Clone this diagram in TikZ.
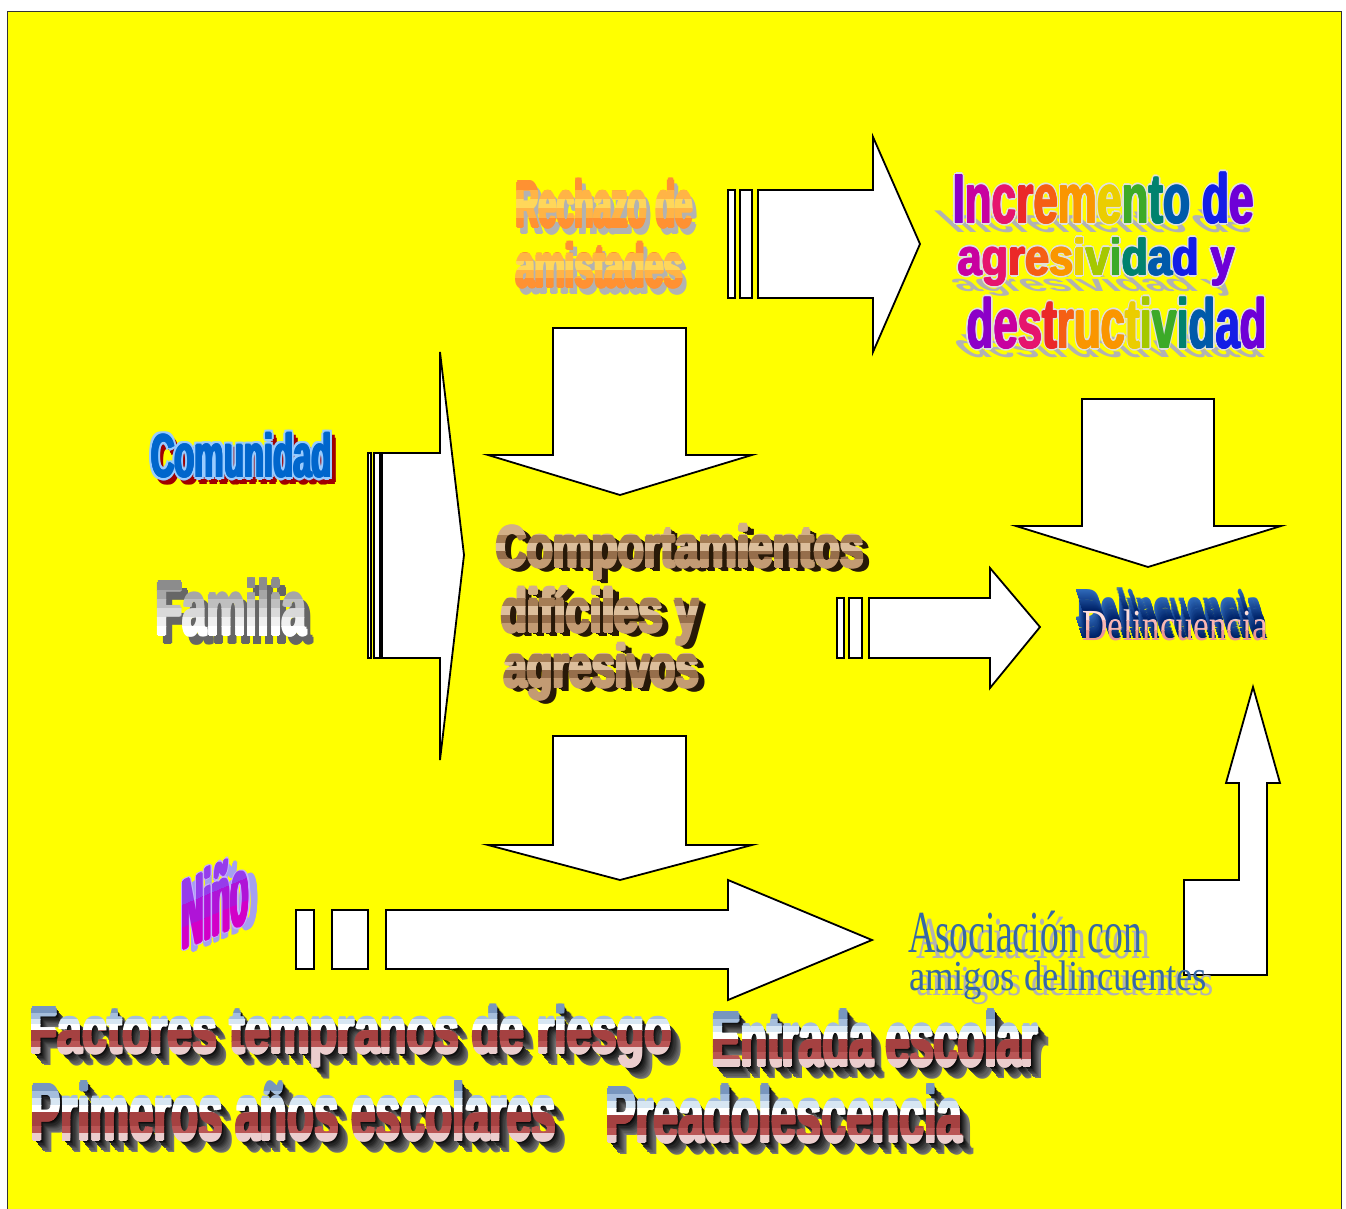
\documentclass[tikz,border=0pt]{standalone}
\usepackage{fontspec}
\setmainfont{Liberation Sans}
\newfontfamily\serifF{Liberation Serif}
\usepackage{graphicx}
\definecolor{bgyellow}{RGB}{255,255,0}
\definecolor{orA}{RGB}{255,145,50}
\definecolor{orB}{RGB}{255,180,70}
\definecolor{orC}{RGB}{255,215,90}
\definecolor{shgray}{RGB}{178,178,178}
\definecolor{comblue}{RGB}{0,102,204}
\definecolor{comlight}{RGB}{153,204,255}
\definecolor{comred}{RGB}{160,0,0}
\definecolor{brownsh}{RGB}{40,25,8}
\definecolor{tanA}{RGB}{210,175,135}
\definecolor{tanB}{RGB}{165,125,85}
\definecolor{tanC}{RGB}{220,190,155}
\definecolor{tanD}{RGB}{150,110,75}
\definecolor{tanE}{RGB}{195,155,115}
\definecolor{delblueA}{RGB}{0,35,105}
\definecolor{delblueB}{RGB}{50,110,190}
\definecolor{pinkA}{RGB}{255,222,218}
\definecolor{pinkB}{RGB}{250,182,178}
\definecolor{pinkC}{RGB}{235,150,150}
\definecolor{asoc}{RGB}{55,105,165}
\definecolor{ninoA}{RGB}{150,60,235}
\definecolor{ninoB}{RGB}{175,20,215}
\definecolor{ninoC}{RGB}{210,0,200}
\definecolor{ninoL}{RGB}{200,175,255}
\definecolor{ninoS}{RGB}{165,160,240}
\definecolor{chrA}{RGB}{120,150,190}
\definecolor{chrB}{RGB}{165,190,220}
\definecolor{chrC}{RGB}{215,230,242}
\definecolor{chrD}{RGB}{255,255,255}
\definecolor{chrE}{RGB}{165,65,65}
\definecolor{chrF}{RGB}{185,85,85}
\definecolor{chrH}{RGB}{235,205,205}
\definecolor{exgray}{RGB}{130,130,130}
\definecolor{rb1}{RGB}{140,0,200}
\definecolor{rb2}{RGB}{200,0,160}
\definecolor{rb3}{RGB}{230,20,110}
\definecolor{rb4}{RGB}{235,40,40}
\definecolor{rb5}{RGB}{245,95,20}
\definecolor{rb6}{RGB}{250,150,0}
\definecolor{rb7}{RGB}{235,205,0}
\definecolor{rb8}{RGB}{165,200,0}
\definecolor{rb9}{RGB}{60,170,40}
\definecolor{rb10}{RGB}{0,130,110}
\definecolor{rb11}{RGB}{0,90,170}
\definecolor{rb12}{RGB}{20,30,230}
\definecolor{rb13}{RGB}{110,0,215}

\newcommand\rc[2]{\textcolor{#1}{#2}}
\newcommand\setword[6]{\def\wx{#1}\def\wy{#2}\def\wW{#3}\def\wH{#4}\def\wF{#5}\def\wT{#6}}
\newcommand\wbox[1]{{\wF\resizebox{\wW pt}{\wH pt}{\vphantom{H}\smash{#1}}}}
% thick copy: name, dx, dy, colour, r
\newcommand\shcopy[5]{%
  \ifdim #5pt>0pt
  \foreach \aa in {0,60,...,300}{%
    \node[wa,text=#4] (#1-\aa) at ({\wx+#2+#5*cos(\aa)},{\wy+#3+#5*sin(\aa)}) {\wbox{\wT}};}%
  \fi
  \node[wa,text=#4] (#1) at (\wx+#2,\wy+#3) {\wbox{\wT}};}
\newcommand\extrude[6]{%
  \colorlet{exnear}{#5}\colorlet{exfar}{#6}%
  \foreach \kk in {#2,...,1}{%
    \pgfmathtruncatemacro\pct{100*(\kk-1)/#2}%
    \node[wa,text=exfar!\pct!exnear] (#1-\kk) at (\wx+\kk*#3,\wy+\kk*#4) {\wbox{\wT}};}}
\newcommand\outl[3]{%
  \foreach \aa in {0,45,...,315}{%
    \node[wa,text=#3] (#1-\aa) at ({\wx+#2*cos(\aa)},{\wy+#2*sin(\aa)}) {\wbox{\wT}};}}
% gradient face: name, colours, n, thickness
\newcommand\gradface[4]{%
  \foreach \cc [count=\ii] in {#2}{%
    \pgfmathsetmacro\yta{(\ii==1) ? (\wy-\wH-40) : (\wy-\wH+(\ii-1)*\wH/#3)}%
    \pgfmathsetmacro\ytb{(\ii==#3) ? (\wy+40) : (\wy-\wH+\ii*\wH/#3)}%
    \begin{scope}
      \clip (\wx-30,\yta) rectangle (\wx+\wW+30,\ytb);
      \ifdim #4pt>0pt
      \foreach \aa in {0,60,...,300}{%
        \node[wa,text=\cc] (#1-\ii-\aa) at ({\wx+#4*cos(\aa)},{\wy+#4*sin(\aa)}) {\wbox{\wT}};}%
      \fi
      \node[wa,text=\cc] (#1-\ii) at (\wx,\wy) {\wbox{\wT}};
    \end{scope}}}
% multicoloured face: name, coloured text, thickness
\newcommand\rainface[3]{%
  \foreach \aa in {0,60,...,300}{%
    \node[wa] (#1-\aa) at ({\wx+#3*cos(\aa)},{\wy+#3*sin(\aa)}) {\wbox{#2}};}%
  \node[wa] (#1) at (\wx,\wy) {\wbox{#2}};}

\begin{document}
\begin{tikzpicture}[x=1pt,y=-1pt,
  wa/.style={anchor=base west, inner sep=0pt, outer sep=0pt},
  blk/.style={draw=black, fill=white, line width=1.8pt, line join=miter}]
\useasboundingbox (0,0) rectangle (1346,1209);
\fill[white] (0,0) rectangle (1346,1209);
\draw[line width=1.5pt, black!80, fill=bgyellow] (7.5,11.5) rectangle (1341.5,1230);

% ---- block arrows ----
\draw[blk] (728,190) rectangle (735,298);
\draw[blk] (740,190) rectangle (752,298);
\draw[blk] (758,190) -- (873,190) -- (873,137) -- (920,244) -- (873,352) -- (873,298) -- (758,298) -- cycle;
\draw[blk] (553,328) -- (686,328) -- (686,455) -- (752,455) -- (620,495) -- (488,455) -- (553,455) -- cycle;
\draw[blk] (368,453) rectangle (371,658);
\draw[blk] (374,453) rectangle (380,658);
\draw[blk] (382,453) -- (440,453) -- (440,352) -- (464,555) -- (440,760) -- (440,658) -- (382,658) -- cycle;
\draw[blk] (553,736) -- (686,736) -- (686,845) -- (752,845) -- (620,880) -- (488,845) -- (553,845) -- cycle;
\draw[blk] (837,598) rectangle (844,658);
\draw[blk] (849,598) rectangle (862,658);
\draw[blk] (869,598) -- (990,598) -- (990,568) -- (1040,627) -- (990,688) -- (990,658) -- (869,658) -- cycle;
\draw[blk] (1082,399) -- (1214,399) -- (1214,526) -- (1281,526) -- (1148,567) -- (1016,526) -- (1082,526) -- cycle;
\draw[blk] (296,910) rectangle (314,969);
\draw[blk] (332,910) rectangle (368,969);
\draw[blk] (386,910) -- (728,910) -- (728,880) -- (872,940) -- (728,1000) -- (728,969) -- (386,969) -- cycle;
\draw[blk] (1184,880) -- (1239,880) -- (1239,783) -- (1226,783) -- (1253,687) -- (1280,783) -- (1267,783) -- (1267,975) -- (1184,975) -- cycle;

% ---- Rechazo de amistades ----
\setword{516}{227}{177}{45}{\bfseries}{Rechazo de}
\shcopy{rech1-sh}{4}{6}{shgray}{1.4}
\gradface{rech1}{orA,orB,orC,orB,orA}{5}{1.4}
\setword{516}{287}{167}{42}{\bfseries}{amistades}
\shcopy{rech2-sh}{4}{6}{shgray}{1.4}
\gradface{rech2}{orA,orB,orC,orB,orA}{5}{1.4}

% ---- Incremento de agresividad y destructividad ----
\setword{953}{223}{301}{48}{\bfseries}{Incremento de}
\node[wa,text=shgray,xslant=-1.1,yscale=0.45] (inc1-sh) at (955,232) {\wbox{\wT}};
\outl{inc1-ol}{2.2}{black!12}
\rainface{inc1}{\rc{rb1}{I}\rc{rb2}{n}\rc{rb3}{c}\rc{rb4}{r}\rc{rb5}{e}\rc{rb6}{m}\rc{rb7}{e}\rc{rb9}{n}\rc{rb10}{t}\rc{rb11}{o} \rc{rb12}{d}\rc{rb13}{e}}{0.7}
\setword{958}{275}{277}{35}{\bfseries}{agresividad y}
\node[wa,text=shgray,xslant=-1.1,yscale=0.45] (inc2-sh) at (960,291) {\wbox{\wT}};
\outl{inc2-ol}{2.2}{black!12}
\rainface{inc2}{\rc{rb2}{a}\rc{rb3}{g}\rc{rb4}{r}\rc{rb5}{e}\rc{rb6}{s}\rc{rb7}{i}\rc{rb8}{v}\rc{rb9}{i}\rc{rb10}{d}\rc{rb11}{a}\rc{rb12}{d} \rc{rb13}{y}}{0.7}
\setword{967}{348}{300}{48}{\bfseries}{destructividad}
\node[wa,text=shgray,xslant=-1.1,yscale=0.45] (inc3-sh) at (968,357) {\wbox{\wT}};
\outl{inc3-ol}{2.2}{black!12}
\rainface{inc3}{\rc{rb1}{d}\rc{rb2}{e}\rc{rb3}{s}\rc{rb4}{t}\rc{rb5}{r}\rc{rb6}{u}\rc{rb6}{c}\rc{rb7}{t}\rc{rb8}{i}\rc{rb9}{v}\rc{rb10}{i}\rc{rb11}{d}\rc{rb12}{a}\rc{rb13}{d}}{0.7}

% ---- Comunidad ----
\setword{151}{477}{181}{42}{\bfseries}{Comunidad}
\shcopy{com-sh}{4}{5}{comred}{2.5}
\outl{com-ol}{3}{comlight}
\shcopy{com}{0}{0}{comblue}{1}

% ---- Familia ----
\setword{156}{635}{150}{53}{\bfseries}{Familia}
\shcopy{fam-sh}{6}{8}{black!60}{1.3}
\gradface{fam}{black!45,black!35,black!25,black!15,black!6,white}{6}{1.3}

% ---- Comportamientos dificiles y agresivos ----
\setword{496}{567}{368}{40}{\bfseries}{Comportamientos}
\extrude{comp1-x}{7}{1.1}{0.7}{brownsh}{brownsh}
\gradface{comp1}{tanA,tanB,tanC,tanD,tanE}{5}{1.6}
\setword{501}{632}{198}{42}{\bfseries}{difíciles y}
\extrude{comp2-x}{7}{1.1}{0.7}{brownsh}{brownsh}
\gradface{comp2}{tanA,tanB,tanC,tanD,tanE}{5}{1.6}
\setword{504}{687}{195}{41}{\bfseries}{agresivos}
\extrude{comp3-x}{7}{1.1}{0.7}{brownsh}{brownsh}
\gradface{comp3}{tanA,tanB,tanC,tanD,tanE}{5}{1.6}

% ---- Delincuencia ----
\setword{1082}{640}{186}{29}{\serifF}{Delincuencia}
\extrude{del-x}{20}{-0.35}{-1.1}{delblueA}{delblueB}
\gradface{del}{pinkA,pinkB,pinkC}{3}{0}

% ---- Asociacion con amigos delincuentes ----
\setword{908}{952}{234}{39}{\serifF}{Asociación con}
\shcopy{aso1-sh}{8}{6}{shgray}{0}
\shcopy{aso1}{0}{0}{asoc}{0}
\setword{909}{990}{298}{28}{\serifF}{amigos delincuentes}
\shcopy{aso2-sh}{7}{5}{shgray}{0}
\shcopy{aso2}{0}{0}{asoc}{0}

% ---- Nino ----
\begin{scope}[shift={(182,950)}, yslant=0.42, transform shape]
\setword{0}{0}{67}{68}{\bfseries}{Niño}
\shcopy{nino-sh}{9}{6}{ninoS}{1.2}
\outl{nino-ol}{2.5}{ninoL}
\gradface{nino}{ninoA,ninoB,ninoC}{3}{1.2}
\end{scope}

% ---- bottom chrome texts ----
\setword{30}{1053}{642}{45}{\bfseries}{Factores tempranos de riesgo}
\extrude{fac-x}{10}{1.1}{1.25}{black}{exgray}
\gradface{fac}{chrA,chrB,chrC,chrD,chrE,chrE,chrF,chrH}{8}{1.3}
\setword{712}{1066}{326}{53}{\bfseries}{Entrada escolar}
\extrude{ent-x}{10}{1.1}{1.25}{black}{exgray}
\gradface{ent}{chrA,chrB,chrC,chrD,chrE,chrE,chrF,chrH}{8}{1.3}
\setword{31}{1140}{525}{55}{\bfseries}{Primeros años escolares}
\extrude{pri-x}{10}{1.1}{1.25}{black}{exgray}
\gradface{pri}{chrA,chrB,chrC,chrD,chrE,chrE,chrF,chrH}{8}{1.3}
\setword{606}{1142}{356}{54}{\bfseries}{Preadolescencia}
\extrude{pre-x}{10}{1.1}{1.25}{black}{exgray}
\gradface{pre}{chrA,chrB,chrC,chrD,chrE,chrE,chrF,chrH}{8}{1.3}
\end{tikzpicture}
\end{document}
